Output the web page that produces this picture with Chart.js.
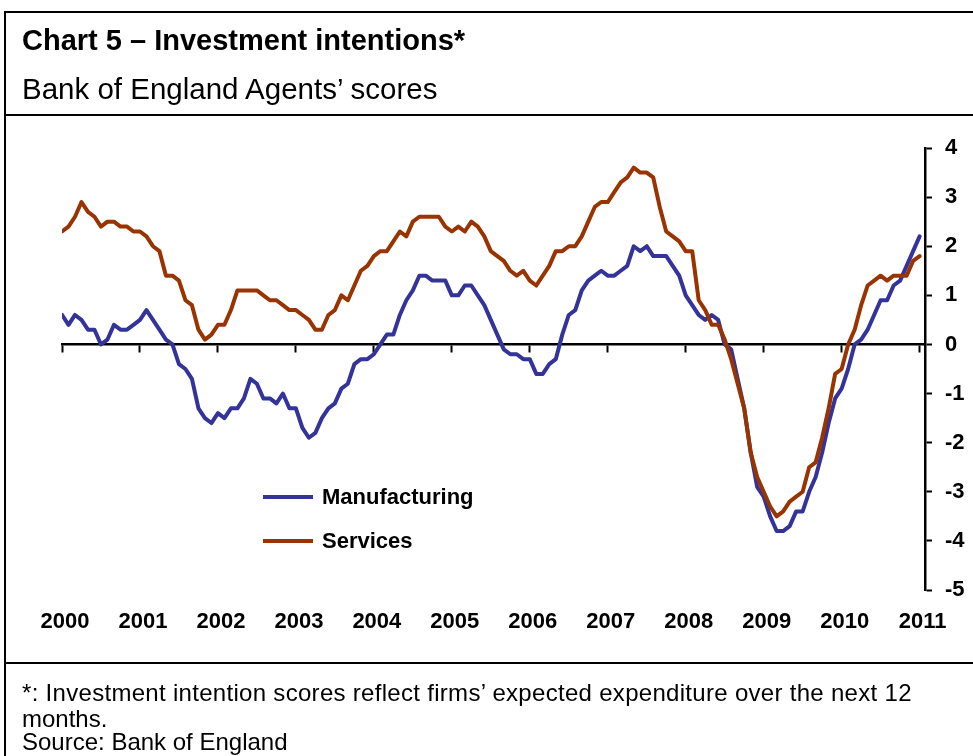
<!DOCTYPE html>
<html>
<head>
<meta charset="utf-8">
<script src="https://cdn.jsdelivr.net/npm/chart.js@4.4.0/dist/chart.umd.min.js"></script>
<style>
  html, body { margin: 0; padding: 0; background: #fff; }
  body { width: 973px; height: 756px; overflow: hidden; position: relative; font-family: "Liberation Sans", Arial, sans-serif; }
  .rule { position: absolute; background: #000; }
  .txt { position: absolute; white-space: nowrap; color: #000; line-height: 1; }
  canvas { position: absolute; left: 0; top: 0; }
  .legline { position: absolute; height: 4px; }
</style>
</head>
<body>
<canvas id="c" width="973" height="756"></canvas>
<div class="rule" style="left:4px; top:11px; width:2px; height:760px;"></div>
<div class="rule" style="left:4px; top:11px; width:980px; height:2px;"></div>
<div class="rule" style="left:4px; top:114px; width:980px; height:2px;"></div>
<div class="rule" style="left:4px; top:662px; width:980px; height:2px;"></div>

<div class="txt" style="left:22px; top:26px; font-size:29px; font-weight:bold;">Chart 5 – Investment intentions*</div>
<div class="txt" style="left:22px; top:74px; font-size:29.5px;">Bank of England Agents’ scores</div>

<div class="legline" style="left:263px; top:495px; width:50px; background:#333399;"></div>
<div class="txt" style="left:322px; top:486px; font-size:22px; font-weight:bold;">Manufacturing</div>
<div class="legline" style="left:263px; top:539px; width:50px; background:#993300;"></div>
<div class="txt" style="left:322px; top:530px; font-size:22px; font-weight:bold;">Services</div>

<div class="txt" style="left:22px; top:681px; font-size:24px; letter-spacing:0.3px;">*: Investment intention scores reflect firms’ expected expenditure over the next 12</div>
<div class="txt" style="left:22px; top:707px; font-size:24px;">months.</div>
<div class="txt" style="left:22px; top:730px; font-size:24px;">Source: Bank of England</div>

<script>
// Monthly observations, Jan 2000 (index 0) to Jan 2011 (index 132)
const tickYears = ['2000','2001','2002','2003','2004','2005','2006','2007','2008','2009','2010','2011'];
const yTicks = [-5,-4,-3,-2,-1,0,1,2,3,4];

const manufacturing = [
  0.6,0.4,0.6,0.5,0.3,0.3,0.0,0.1,0.4,0.3,0.3,0.4,
  0.5,0.7,0.5,0.3,0.1,0.0,-0.4,-0.5,-0.7,-1.3,-1.5,-1.6,
  -1.4,-1.5,-1.3,-1.3,-1.1,-0.7,-0.8,-1.1,-1.1,-1.2,-1.0,-1.3,
  -1.3,-1.7,-1.9,-1.8,-1.5,-1.3,-1.2,-0.9,-0.8,-0.4,-0.3,-0.3,
  -0.2,0.0,0.2,0.2,0.6,0.9,1.1,1.4,1.4,1.3,1.3,1.3,
  1.0,1.0,1.2,1.2,1.0,0.8,0.5,0.2,-0.1,-0.2,-0.2,-0.3,
  -0.3,-0.6,-0.6,-0.4,-0.3,0.2,0.6,0.7,1.1,1.3,1.4,1.5,
  1.4,1.4,1.5,1.6,2.0,1.9,2.0,1.8,1.8,1.8,1.6,1.4,
  1.0,0.8,0.6,0.5,0.6,0.5,0.0,-0.1,-0.7,-1.3,-2.2,-2.9,
  -3.1,-3.5,-3.8,-3.8,-3.7,-3.4,-3.4,-3.0,-2.7,-2.2,-1.6,-1.1,
  -0.9,-0.5,0.0,0.1,0.3,0.6,0.9,0.9,1.2,1.3,1.6,1.9,
  2.2
];

const services = [
  2.3,2.4,2.6,2.9,2.7,2.6,2.4,2.5,2.5,2.4,2.4,2.3,
  2.3,2.2,2.0,1.9,1.4,1.4,1.3,0.9,0.8,0.3,0.1,0.2,
  0.4,0.4,0.7,1.1,1.1,1.1,1.1,1.0,0.9,0.9,0.8,0.7,
  0.7,0.6,0.5,0.3,0.3,0.6,0.7,1.0,0.9,1.2,1.5,1.6,
  1.8,1.9,1.9,2.1,2.3,2.2,2.5,2.6,2.6,2.6,2.6,2.4,
  2.3,2.4,2.3,2.5,2.4,2.2,1.9,1.8,1.7,1.5,1.4,1.5,
  1.3,1.2,1.4,1.6,1.9,1.9,2.0,2.0,2.2,2.5,2.8,2.9,
  2.9,3.1,3.3,3.4,3.6,3.5,3.5,3.4,2.8,2.3,2.2,2.1,
  1.9,1.9,0.9,0.7,0.4,0.4,0.1,-0.3,-0.8,-1.3,-2.2,-2.7,
  -3.0,-3.3,-3.5,-3.4,-3.2,-3.1,-3.0,-2.5,-2.4,-1.9,-1.3,-0.6,
  -0.5,0.0,0.3,0.8,1.2,1.3,1.4,1.3,1.4,1.4,1.4,1.7,
  1.8
];

const toPoints = arr => arr.map((v, i) => ({ x: i, y: v }));
const yearTickValues = tickYears.map((_, k) => k * 12);
const FONT = '"Liberation Sans", Arial, sans-serif';

new Chart(document.getElementById('c'), {
  type: 'line',
  data: {
    datasets: [
      { label: 'Manufacturing', data: toPoints(manufacturing), borderColor: '#333399', borderWidth: 4, pointRadius: 0, tension: 0, order: 1, borderJoinStyle: 'round', borderCapStyle: 'round' },
      { label: 'Services', data: toPoints(services), borderColor: '#993300', borderWidth: 4, pointRadius: 0, tension: 0, order: 0, borderJoinStyle: 'round', borderCapStyle: 'round' }
    ]
  },
  options: {
    responsive: false,
    devicePixelRatio: 1,
    animation: false,
    events: [],
    layout: { padding: { left: 62, top: 148, right: 0, bottom: 106 } },
    plugins: { legend: { display: false }, title: { display: false }, tooltip: { enabled: false } },
    scales: {
      x: {
        type: 'linear', min: 0, max: 132.83,
        position: { y: 0 },
        afterBuildTicks: s => { s.ticks = yearTickValues.map(v => ({ value: v })); },
        ticks: { display: false },
        grid: { drawOnChartArea: false, drawTicks: true, tickLength: 7, tickWidth: 2, tickColor: '#000' },
        border: { display: true, color: '#000', width: 2.5 }
      },
      x2: {
        type: 'linear', min: 0, max: 132.83, position: 'bottom',
        afterBuildTicks: s => { s.ticks = yearTickValues.map(v => ({ value: v })); },
        afterFit: s => { s.height = 60; },
        ticks: {
          autoSkip: false, maxRotation: 0, padding: 19, labelOffset: 3, color: '#000',
          font: { family: FONT, size: 22, weight: 'bold' },
          callback: v => tickYears[Math.round(v / 12)]
        },
        grid: { display: false, drawTicks: false },
        border: { display: false }
      },
      y: {
        type: 'linear', min: -5, max: 4, position: 'right',
        afterBuildTicks: s => { s.ticks = yTicks.map(v => ({ value: v })); },
        afterFit: s => { s.width = 48; },
        ticks: { padding: 13, color: '#000', font: { family: FONT, size: 22, weight: 'bold' } },
        grid: { drawOnChartArea: false, drawTicks: true, tickLength: 7, tickWidth: 2, tickColor: '#000' },
        border: { display: true, color: '#000', width: 2.5 }
      }
    }
  }
});
</script>
</body>
</html>
